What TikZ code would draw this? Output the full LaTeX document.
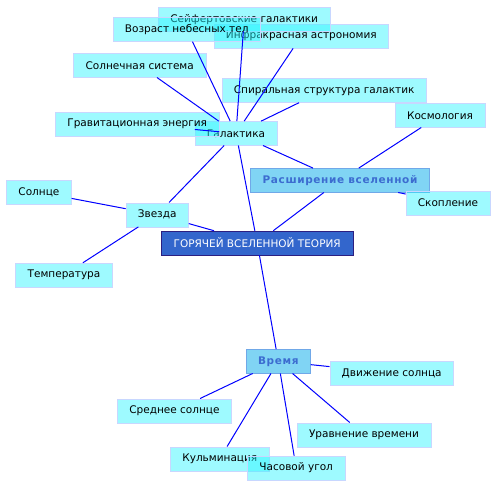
\documentclass[tikz,border=0pt]{standalone}
\usepackage{fontspec}
\setmainfont{DejaVu Sans}
\newfontfamily\spacedbold[LetterSpace=6]{DejaVu Sans Bold}
\usetikzlibrary{arrows.meta}

\definecolor{leaffill}{RGB}{40,245,255}
\definecolor{leafline}{RGB}{200,215,255}
\definecolor{midfill}{RGB}{128,212,244}
\definecolor{midline}{RGB}{112,168,232}
\definecolor{midtext}{RGB}{60,108,208}
\definecolor{rootfill}{RGB}{51,102,204}
\definecolor{rootline}{RGB}{44,31,128}

\tikzset{
    leaf/.style={draw=leafline, fill=leaffill, fill opacity=0.45, text opacity=1,
        font=\fontsize{10.5}{12}\selectfont, inner xsep=12pt, minimum height=24pt},
    branch/.style={draw=midline, fill=midfill, text=midtext,
        font=\fontsize{10.5}{12}\spacedbold, inner xsep=12pt, minimum height=24pt},
    root/.style={draw=rootline, fill=rootfill, text=white,
        font=\fontsize{10.5}{12}\selectfont, inner xsep=12pt, minimum height=24pt},
    link/.style={blue, line width=1pt}
}

\begin{document}
\begin{tikzpicture}[x=1pt, y=-1pt]
    \useasboundingbox (0,0) rectangle (496,487);

    % nodes
    \node[leaf] (infra) at (301.3,36.2) {Инфракрасная астрономия};
    \node[leaf] (seyfert) at (244.2,19.3) {Сейфертовские галактики};
    \node[leaf] (vozrast) at (186.7,29.5) {Возраст небесных тел};
    \node[leaf] (solsys) at (139.7,65.3) {Солнечная система};
    \node[leaf] (spiral) at (324.2,90.5) {Спиральная структура галактик};
    \node[leaf] (kosmo) at (440,115.3) {Космология};
    \node[leaf] (galak) at (236,133.3) {Галактика};
    \node[leaf] (grav) at (137.2,124.2) {Гравитационная энергия};
    \node[branch] (rassh) at (340,180.3) {Расширение вселенной};
    \node[leaf] (skopl) at (448,202.9) {Скопление};
    \node[leaf] (solnce) at (38.9,192.2) {Солнце};
    \node[leaf] (zvezda) at (157.2,214.7) {Звезда};
    \node[root] (teoria) at (257.2,242.9) {ГОРЯЧЕЙ ВСЕЛЕННОЙ ТЕОРИЯ};
    \node[leaf] (temper) at (64,275) {Температура};
    \node[branch] (vremya) at (278.3,361.3) {Время};
    \node[leaf] (dvizh) at (391.7,373) {Движение солнца};
    \node[leaf] (sredn) at (174.5,410.7) {Среднее солнце};
    \node[leaf] (uravn) at (364,434.7) {Уравнение времени};
    \node[leaf] (kulm) at (219.8,458.7) {Кульминация};
    \node[leaf] (chas) at (296.2,468) {Часовой угол};

    % links
    \foreach \n in {vozrast, seyfert, infra, solsys, spiral, grav, zvezda, teoria, rassh}
        \draw[link] (galak) -- (\n);
    \foreach \n in {kosmo, skopl, teoria}
        \draw[link] (rassh) -- (\n);
    \foreach \n in {solnce, temper, teoria}
        \draw[link] (zvezda) -- (\n);
    \draw[link] (teoria) -- (vremya);
    \foreach \n in {dvizh, sredn, uravn, kulm, chas}
        \draw[link] (vremya) -- (\n);
\end{tikzpicture}
\end{document}
